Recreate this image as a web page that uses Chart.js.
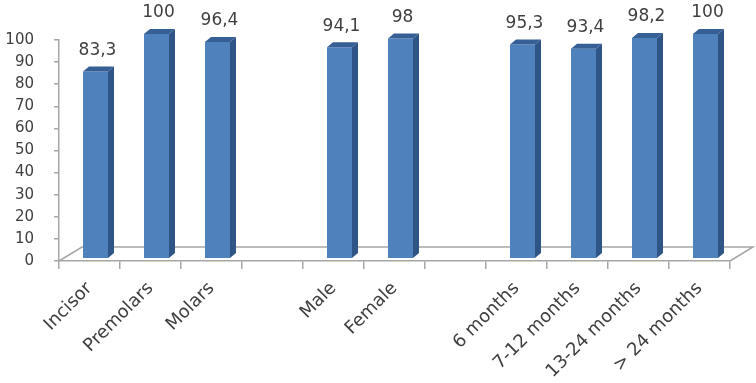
<!DOCTYPE html>
<html>
<head>
<meta charset="utf-8">
<script src="https://cdn.jsdelivr.net/npm/chart.js@4.4.1/dist/chart.umd.min.js"></script>
<style>
html,body{margin:0;padding:0;background:#fff;}
#wrap{width:756px;height:383px;position:relative;}
</style>
</head>
<body>
<div id="wrap"><canvas id="c" width="756" height="383"></canvas></div>
<script>
const categories = ['Incisor', 'Premolars', 'Molars', '', 'Male', 'Female', '', '6 months', '7-12 months', '13-24 months', '> 24 months'];
const values = [83.3, 100, 96.4, null, 94.1, 98, null, 95.3, 93.4, 98.2, 100];
const yMin = 0, yMax = 100, yStep = 10;

const FONT = "'DejaVu Sans', Verdana, sans-serif";
const FRONT = '#4F81BD';
const SIDE = '#2F5587';
const TOP = '#365F96';
const AXIS = '#A6A6A6';
const DEPTH_X = 6, DEPTH_Y = 5;     // bar 3D depth
const FLOOR_X = 23, FLOOR_Y = 14;   // floor depth
const SHIFT_X = 6;                  // bars sit mid-depth

const fmt = v => String(v).replace('.', ',');

const threeD = {
  id: 'threeD',
  beforeDatasetsDraw(chart) {
    const ctx = chart.ctx;
    const x = chart.scales.x;
    const y = chart.scales.y;
    const l = x.left, r = x.right, b = y.getPixelForValue(0);
    ctx.save();
    ctx.strokeStyle = AXIS;
    ctx.lineWidth = 1.5;
    ctx.beginPath();
    ctx.moveTo(l, b);
    ctx.lineTo(l + FLOOR_X, b - FLOOR_Y);
    ctx.lineTo(r + FLOOR_X, b - FLOOR_Y);
    ctx.lineTo(r, b);
    ctx.stroke();
    ctx.restore();
    ctx.save();
    ctx.translate(SHIFT_X, 0);
  },
  afterDatasetsDraw(chart) {
    const ctx = chart.ctx;
    const meta = chart.getDatasetMeta(0);
    meta.data.forEach((bar, i) => {
      if (values[i] == null) return;
      const w = bar.width;
      const L = bar.x - w / 2, R = bar.x + w / 2, T = bar.y, B = bar.base;
      ctx.fillStyle = SIDE;
      ctx.beginPath();
      ctx.moveTo(R, T); ctx.lineTo(R + DEPTH_X, T - DEPTH_Y);
      ctx.lineTo(R + DEPTH_X, B - DEPTH_Y); ctx.lineTo(R, B);
      ctx.closePath(); ctx.fill();
      ctx.fillStyle = TOP;
      ctx.beginPath();
      ctx.moveTo(L, T); ctx.lineTo(L + DEPTH_X, T - DEPTH_Y);
      ctx.lineTo(R + DEPTH_X, T - DEPTH_Y); ctx.lineTo(R, T);
      ctx.closePath(); ctx.fill();
    });
    // data labels
    ctx.fillStyle = '#404040';
    ctx.font = '17px ' + FONT;
    ctx.textAlign = 'center';
    ctx.textBaseline = 'middle';
    meta.data.forEach((bar, i) => {
      if (values[i] == null) return;
      ctx.fillText(fmt(values[i]), bar.x + 2, bar.y - 21);
    });
    ctx.restore();
  }
};

new Chart(document.getElementById('c'), {
  type: 'bar',
  data: {
    labels: categories,
    datasets: [{
      data: values,
      backgroundColor: FRONT,
      borderWidth: 0,
      barPercentage: 0.41,
      categoryPercentage: 1,
      yAxisID: 'yb',
      clip: false
    }]
  },
  options: {
    responsive: false,
    animation: false,
    devicePixelRatio: 1,
    layout: { padding: { top: 40, right: 26, left: 0, bottom: 0 } },
    plugins: { legend: { display: false }, tooltip: { enabled: false } },
    scales: {
      x: {
        offset: true,
        grid: { offset: true, drawOnChartArea: false, color: AXIS, tickLength: 8, lineWidth: 1.5 },
        border: { color: AXIS, width: 1.5 },
        ticks: { maxRotation: 45, minRotation: 45, autoSkip: false, color: '#404040', font: { family: FONT, size: 18 }, padding: 9 },
        afterFit(s) { s.height = 122; }
      },
      y: {
        min: yMin, max: yMax,
        grid: { drawOnChartArea: false, color: AXIS, tickLength: 5, lineWidth: 1.5 },
        border: { color: AXIS, width: 1.5 },
        ticks: { stepSize: yStep, color: '#404040', font: { family: FONT, size: 15 }, padding: 20 },
        afterFit(s) { s.width = 59; }
      },
      yb: {
        display: false,
        min: -1.34, max: 97.32
      }
    }
  },
  plugins: [threeD]
});
</script>
</body>
</html>
